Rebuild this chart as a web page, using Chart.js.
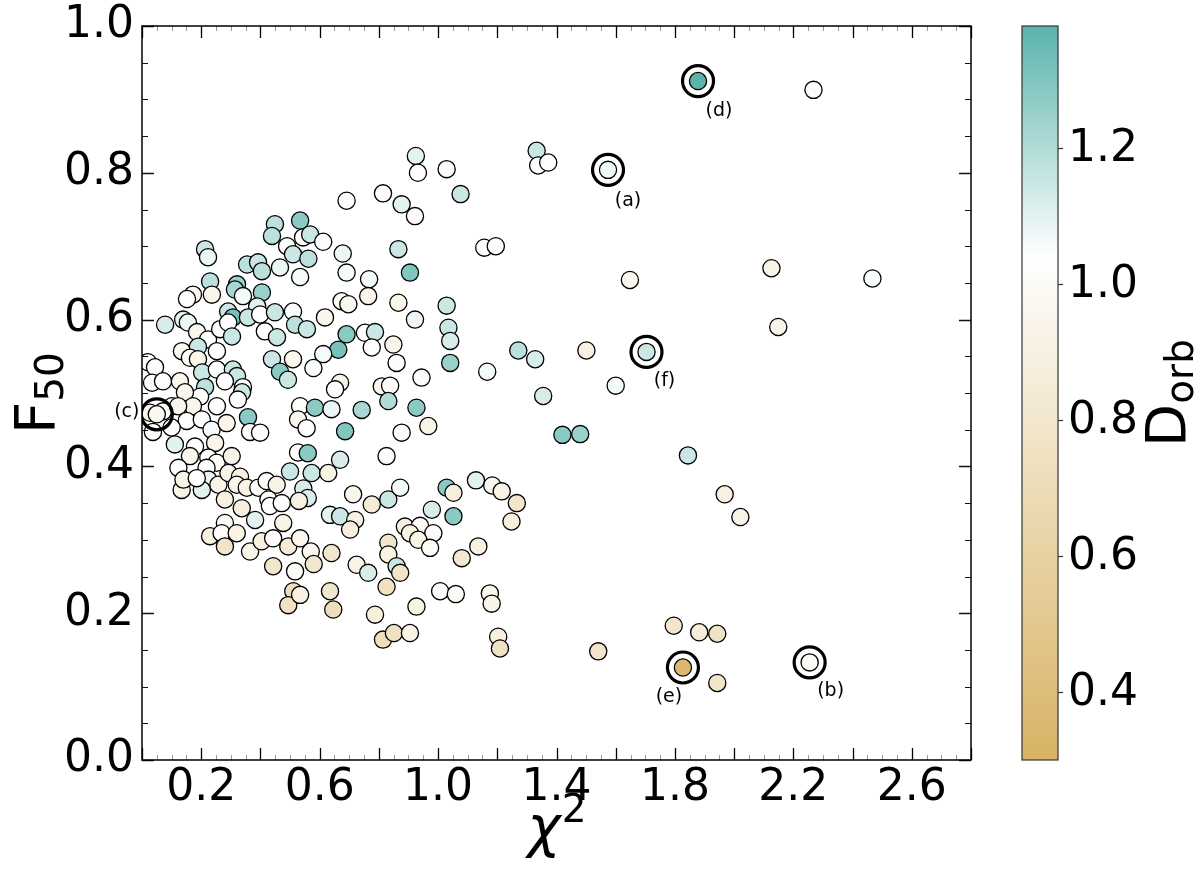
<!DOCTYPE html>
<html>
<head>
<meta charset="utf-8">
<script src="https://cdn.jsdelivr.net/npm/chart.js@4.4.1/dist/chart.umd.min.js"></script>
<style>
  html, body { margin: 0; padding: 0; background: #fff; }
  canvas { display: block; }
</style>
</head>
<body>
<canvas id="chart" width="1200" height="880"></canvas>
<script>
// chi^2 of each source
const chi2 = [
    // dense left group
    0.449,0.534,0.439,0.490,0.544,0.510,0.213,0.223,0.355,0.392,
    0.405,0.466,0.534,0.230,0.321,0.314,0.405,0.341,0.172,0.152,
    0.236,0.389,0.291,0.307,0.358,0.399,0.449,0.510,0.517,0.557,
    0.078,0.139,0.155,0.186,0.223,0.264,0.291,0.304,0.415,0.456,
    0.135,0.189,0.253,0.162,0.189,0.439,0.466,0.493,0.510,0.020,
    0.044,0.034,0.071,0.128,0.203,0.253,0.307,0.321,0.213,0.280,
    0.341,0.338,0.324,0.196,0.145,0.172,0.253,0.534,0.358,0.101,
    // lower left group
    0.027,0.071,0.122,0.365,0.399,0.151,0.100,0.037,0.202,0.235,
    0.286,0.527,0.527,0.560,0.111,0.179,0.247,0.162,0.224,0.252,
    0.303,0.123,0.218,0.224,0.258,0.292,0.331,0.320,0.134,0.202,
    0.140,0.185,0.354,0.393,0.421,0.455,0.500,0.545,0.560,0.530,
    0.280,0.337,0.427,0.432,0.472,0.382,0.280,0.477,0.230,0.269,
    0.320,0.280,0.365,0.404,0.443,0.494,0.534,0.570,0.443,0.517,
    0.511,0.580,0.494,
    // middle upper
    0.691,0.814,0.877,0.922,0.568,0.612,0.562,0.678,0.866,0.691,
    0.905,0.767,0.764,0.674,0.697,0.866,1.029,0.618,0.922,1.035,
    1.041,0.691,0.753,0.787,0.663,0.612,0.776,0.849,0.579,0.860,
    1.041,0.944,0.669,0.652,0.810,0.838,0.832,0.584,0.640,0.742,
    0.927,0.925,0.932,
    // middle lower
    0.556,0.686,0.877,0.967,0.669,0.826,0.573,0.629,0.713,0.776,
    0.832,0.872,1.029,1.052,1.052,0.979,0.635,0.669,0.720,0.703,
    0.888,0.939,0.905,0.984,0.933,0.973,0.640,0.832,0.832,0.725,
    0.764,0.860,0.872,0.826,0.534,0.635,0.646,0.787,0.927,1.007,
    1.060,0.814,0.851,0.905,
    // right side
    1.029,1.333,1.338,1.372,1.076,1.156,1.195,1.166,1.271,1.328,
    1.501,1.355,1.600,1.420,1.480,1.128,1.183,1.215,1.266,1.248,
    1.136,1.080,1.175,1.181,1.203,1.209,1.541,2.268,1.648,2.126,
    2.467,2.149,1.844,1.968,2.021,1.796,1.882,1.943,1.943
];

const f50 = [
    0.730,0.735,0.714,0.700,0.712,0.689,0.696,0.685,0.675,0.678,
    0.666,0.671,0.658,0.652,0.648,0.641,0.637,0.632,0.634,0.628,
    0.634,0.618,0.611,0.603,0.603,0.607,0.610,0.611,0.593,0.587,
    0.593,0.600,0.596,0.583,0.573,0.587,0.596,0.577,0.584,0.576,
    0.557,0.563,0.557,0.548,0.546,0.546,0.529,0.518,0.546,0.542,
    0.535,0.514,0.516,0.516,0.528,0.532,0.532,0.523,0.508,0.516,
    0.508,0.501,0.491,0.495,0.501,0.482,0.482,0.482,0.467,0.482,

    0.473,0.475,0.482,0.447,0.446,0.462,0.453,0.447,0.464,0.450,
    0.459,0.464,0.419,0.418,0.430,0.427,0.432,0.414,0.412,0.405,
    0.414,0.398,0.398,0.382,0.375,0.391,0.386,0.375,0.368,0.368,
    0.382,0.384,0.371,0.371,0.380,0.375,0.393,0.370,0.357,0.353,
    0.355,0.343,0.355,0.346,0.350,0.327,0.323,0.323,0.305,0.309,
    0.309,0.291,0.284,0.298,0.302,0.291,0.302,0.284,0.264,0.257,
    0.230,0.267,0.211,

    0.762,0.772,0.757,0.741,0.716,0.706,0.683,0.690,0.696,0.664,
    0.664,0.655,0.632,0.625,0.621,0.623,0.619,0.603,0.600,0.589,
    0.571,0.580,0.582,0.583,0.559,0.553,0.562,0.566,0.534,0.541,
    0.541,0.521,0.514,0.505,0.509,0.510,0.489,0.480,0.478,0.477,
    0.480,0.823,0.800,

    0.452,0.448,0.446,0.455,0.409,0.414,0.391,0.391,0.362,0.348,
    0.355,0.371,0.371,0.364,0.332,0.341,0.334,0.332,0.327,0.314,
    0.318,0.319,0.309,0.309,0.300,0.289,0.282,0.296,0.280,0.266,
    0.255,0.264,0.255,0.236,0.225,0.230,0.205,0.198,0.209,0.230,
    0.226,0.164,0.173,0.173,

    0.805,0.830,0.810,0.814,0.771,0.698,0.700,0.529,0.558,0.546,
    0.558,0.496,0.510,0.443,0.444,0.381,0.374,0.366,0.350,0.325,
    0.291,0.275,0.227,0.213,0.168,0.152,0.148,0.913,0.654,0.670,
    0.656,0.590,0.415,0.362,0.331,0.183,0.174,0.172,0.105
];

const dorb = [
    1.18,1.28,1.18,1.02,1.02,1.15,1.15,1.08,1.18,1.15,
    1.18,1.08,1.06,1.18,1.25,1.22,1.25,1.06,0.96,1.04,
    0.95,1.10,1.15,1.32,1.15,1.04,1.15,1.05,1.18,1.15,
    1.12,1.10,1.08,0.95,1.04,1.04,1.04,1.15,1.04,1.15,
    0.96,1.15,1.02,1.02,0.95,1.15,1.28,1.15,0.96,1.02,
    1.02,1.02,1.02,0.96,1.15,1.03,1.15,1.15,1.18,1.03,
    1.03,1.15,1.03,1.03,0.95,0.95,1.03,1.03,1.28,1.03,

    0.95,1.03,0.95,1.03,1.02,1.03,1.03,1.03,1.03,1.06,
    0.95,0.95,1.03,1.28,1.10,1.03,0.95,0.95,1.03,1.03,
    0.93,1.03,1.03,1.08,0.93,0.93,0.90,0.93,0.93,1.10,
    0.93,1.03,0.92,1.03,1.03,0.93,1.15,1.12,1.12,0.90,
    0.90,0.88,1.03,1.03,1.03,1.10,1.00,0.93,0.90,1.00,
    0.92,0.78,0.93,0.90,1.02,0.85,0.96,0.97,0.80,1.00,
    0.72,0.80,0.75,

    1.02,1.02,1.10,1.02,1.15,1.05,1.18,1.08,1.15,1.06,
    1.30,1.06,0.95,1.02,0.96,0.94,1.15,0.95,1.08,1.15,
    1.12,1.28,1.02,1.15,1.32,1.06,1.02,0.94,1.05,1.05,
    1.25,1.02,0.93,1.02,0.95,1.02,1.20,1.28,1.08,1.22,
    1.28,1.10,1.02,

    1.02,1.30,1.00,0.93,1.12,1.02,1.15,0.92,0.95,0.85,
    1.15,1.06,1.28,0.88,1.28,1.12,1.10,1.15,0.90,0.88,
    0.90,1.00,0.92,1.00,0.92,1.00,0.80,0.80,0.92,0.92,
    1.12,1.15,0.78,0.75,0.90,0.80,0.72,0.88,0.92,1.00,
    1.00,0.72,0.75,0.92,

    1.02,1.15,1.03,1.02,1.15,1.02,1.02,1.06,1.18,1.12,
    0.90,1.12,1.06,1.28,1.25,1.10,0.97,0.92,0.80,0.88,
    0.90,0.82,0.95,0.93,0.90,0.75,0.78,1.00,0.96,0.93,
    1.05,0.93,1.15,0.90,0.92,0.80,0.86,0.76,0.78
];

// the six marked sources
const markNames = ['(a)', '(b)', '(c)', '(d)', '(e)', '(f)'];
const markChi2 = [1.574, 2.255, 0.050, 1.878, 1.827, 1.704];
const markF50 = [0.804, 0.133, 0.471, 0.925, 0.126, 0.556];
const markDorb = [1.07, 1.00, 0.97, 1.38, 0.35, 1.15];

const xTickLabels = ['0.2', '0.6', '1.0', '1.4', '1.8', '2.2', '2.6'];
const yTickLabels = ['0.0', '0.2', '0.4', '0.6', '0.8', '1.0'];
const cbTickLabels = ['0.4', '0.6', '0.8', '1.0', '1.2'];

// colour map: tan -> white -> teal
const cbMin = 0.30, cbMid = 1.04, cbMax = 1.38;
const cLow = [216, 179, 101], cMid = [255, 255, 255], cHigh = [90, 180, 172];

function dColor(d) {
    let a, b, t;
    if (d <= cbMid) {
        a = cLow; b = cMid; t = (d - cbMin) / (cbMid - cbMin);
    } else {
        a = cMid; b = cHigh; t = (d - cbMid) / (cbMax - cbMid);
    }
    t = Math.max(0, Math.min(1, t));
    const c = a.map((v, i) => Math.round(v + (b[i] - v) * t));
    return `rgb(${c[0]},${c[1]},${c[2]})`;
}

const FONT = "'DejaVu Sans', sans-serif";
const labelOffsets = [[20, 31], [21, 29], [-30, -2], [21, 30], [-14, 30], [18, 29]];

function near(v, step) {
    return Math.abs(v / step - Math.round(v / step)) < 1e-6;
}

// inward ticks on all four sides, plus the frame
const frameTicks = {
    id: 'frameTicks',
    afterDatasetsDraw(chart) {
        const ctx = chart.ctx;
        const a = chart.chartArea;
        const xs = chart.scales.x, ys = chart.scales.y;
        ctx.save();
        ctx.strokeStyle = '#000';
        xs.ticks.forEach(t => {
            const px = Math.round(xs.getPixelForValue(t.value)) + 0.5;
            const major = near(t.value, 0.2);
            const len = major ? 12 : 5;
            ctx.lineWidth = major ? 1.3 : 1;
            ctx.strokeStyle = major ? '#000' : '#999';
            ctx.beginPath();
            ctx.moveTo(px, a.bottom); ctx.lineTo(px, a.bottom - len);
            ctx.moveTo(px, a.top); ctx.lineTo(px, a.top + len);
            ctx.stroke();
        });
        ys.ticks.forEach(t => {
            const py = Math.round(ys.getPixelForValue(t.value)) + 0.5;
            const major = near(t.value, 0.2);
            const len = major ? 12 : 6;
            ctx.lineWidth = major ? 1.3 : 1.1;
            ctx.strokeStyle = '#111';
            ctx.beginPath();
            ctx.moveTo(a.left, py); ctx.lineTo(a.left + len, py);
            ctx.moveTo(a.right, py); ctx.lineTo(a.right - len, py);
            ctx.stroke();
        });
        ctx.lineWidth = 1.5;
        ctx.strokeStyle = '#000';
        ctx.strokeRect(a.left, a.top, a.right - a.left, a.bottom - a.top);
        ctx.restore();
    }
};

// (a)...(f) labels next to the rings
const markLabels = {
    id: 'markLabels',
    afterDatasetsDraw(chart) {
        const ctx = chart.ctx;
        const xs = chart.scales.x, ys = chart.scales.y;
        ctx.save();
        ctx.fillStyle = '#000';
        ctx.font = `19px ${FONT}`;
        ctx.textAlign = 'center';
        ctx.textBaseline = 'middle';
        markNames.forEach((name, i) => {
            const px = xs.getPixelForValue(markChi2[i]) + labelOffsets[i][0];
            const py = ys.getPixelForValue(markF50[i]) + labelOffsets[i][1];
            ctx.fillText(name, px, py);
        });
        ctx.restore();
    }
};

// axis titles with sub/superscripts
const axisTitles = {
    id: 'axisTitles',
    afterDraw(chart) {
        const ctx = chart.ctx;
        const a = chart.chartArea;
        ctx.save();
        ctx.fillStyle = '#000';
        ctx.textBaseline = 'alphabetic';
        ctx.textAlign = 'left';

        // F_50 (rotated)
        const midY = (a.top + a.bottom) / 2;
        ctx.save();
        ctx.translate(54, midY);
        ctx.rotate(-Math.PI / 2);
        ctx.font = `56px ${FONT}`;
        const wF = ctx.measureText('F').width;
        ctx.font = `39px ${FONT}`;
        const w50 = ctx.measureText('50').width;
        let sx = -(wF + w50) / 2;
        ctx.font = `56px ${FONT}`;
        ctx.fillText('F', sx, 0);
        ctx.font = `39px ${FONT}`;
        ctx.fillText('50', sx + wF, 9);
        ctx.restore();

        // chi^2
        const midX = (a.left + a.right) / 2;
        ctx.font = `italic 56px ${FONT}`;
        const wc = ctx.measureText('χ').width;
        ctx.font = `39px ${FONT}`;
        const w2 = ctx.measureText('2').width;
        sx = midX - (wc + w2) / 2;
        ctx.font = `italic 56px ${FONT}`;
        ctx.fillText('χ', sx, 846);
        ctx.font = `39px ${FONT}`;
        ctx.fillText('2', sx + wc + 1, 822);
        ctx.restore();
    }
};

// colour bar on the right, using the hidden cb scale
const colorBar = {
    id: 'colorBar',
    afterDraw(chart) {
        const ctx = chart.ctx;
        const cb = chart.scales.cb;
        const x0 = 1022, x1 = 1058;
        const yTop = cb.getPixelForValue(cbMax), yBot = cb.getPixelForValue(cbMin);
        ctx.save();
        const g = ctx.createLinearGradient(0, yBot, 0, yTop);
        g.addColorStop(0, dColor(cbMin));
        g.addColorStop((cbMid - cbMin) / (cbMax - cbMin), dColor(cbMid));
        g.addColorStop(1, dColor(cbMax));
        ctx.fillStyle = g;
        ctx.fillRect(x0, yTop, x1 - x0, yBot - yTop);
        ctx.strokeStyle = '#333';
        ctx.lineWidth = 1.2;
        ctx.strokeRect(x0, yTop, x1 - x0, yBot - yTop);

        ctx.fillStyle = '#000';
        ctx.font = `44px ${FONT}`;
        ctx.textAlign = 'left';
        ctx.textBaseline = 'middle';
        cbTickLabels.forEach(lbl => {
            const py = Math.round(cb.getPixelForValue(parseFloat(lbl))) + 0.5;
            ctx.beginPath();
            ctx.moveTo(x1, py); ctx.lineTo(x1 + 5, py);
            ctx.stroke();
            ctx.fillText(lbl, x1 + 10, py + 1);
        });

        // D_orb
        const midY = (yTop + yBot) / 2;
        ctx.save();
        ctx.translate(1185, midY);
        ctx.rotate(-Math.PI / 2);
        ctx.textBaseline = 'alphabetic';
        ctx.font = `56px ${FONT}`;
        const wD = ctx.measureText('D').width;
        ctx.font = `39px ${FONT}`;
        const wo = ctx.measureText('orb').width;
        const sx = -(wD + wo) / 2;
        ctx.font = `56px ${FONT}`;
        ctx.fillText('D', sx, 0);
        ctx.font = `39px ${FONT}`;
        ctx.fillText('orb', sx + wD, 8);
        ctx.restore();
        ctx.restore();
    }
};

const points = chi2.map((x, i) => ({x: x, y: f50[i]}));
const marks = markChi2.map((x, i) => ({x: x, y: markF50[i]}));

new Chart(document.getElementById('chart').getContext('2d'), {
    type: 'scatter',
    data: {
        datasets: [
            {
                data: points,
                backgroundColor: dorb.map(dColor),
                borderColor: '#000',
                borderWidth: 1.3,
                pointRadius: 8.6,
                order: 3
            },
            {
                data: marks,
                backgroundColor: markDorb.map(dColor),
                borderColor: '#000',
                borderWidth: 1.3,
                pointRadius: 8.6,
                order: 2
            },
            {
                data: marks,
                backgroundColor: 'rgba(0,0,0,0)',
                borderColor: '#000',
                borderWidth: 3.2,
                pointRadius: 15.5,
                order: 1
            }
        ]
    },
    options: {
        responsive: false,
        animation: false,
        events: [],
        layout: {padding: {left: 0, right: 229, top: 26, bottom: 0}},
        plugins: {legend: {display: false}, tooltip: {enabled: false}},
        scales: {
            x: {
                type: 'linear',
                min: 0, max: 2.8,
                grid: {display: false, drawTicks: false},
                border: {display: false},
                ticks: {
                    stepSize: 0.05,
                    autoSkip: false,
                    maxRotation: 0,
                    padding: 2,
                    color: '#000',
                    font: {family: FONT, size: 44},
                    callback: v => {
                        const s = v.toFixed(1);
                        return near(v, 0.1) && xTickLabels.includes(s) ? s : '';
                    }
                },
                afterFit: s => { s.height = 120; s.paddingLeft = 0; s.paddingRight = 0; }
            },
            y: {
                type: 'linear',
                min: 0, max: 1,
                grid: {display: false, drawTicks: false},
                border: {display: false},
                ticks: {
                    stepSize: 0.05,
                    autoSkip: false,
                    padding: 8,
                    color: '#000',
                    font: {family: FONT, size: 44},
                    callback: v => {
                        const s = v.toFixed(1);
                        return near(v, 0.2) && yTickLabels.includes(s) ? s : '';
                    }
                },
                afterFit: s => { s.width = 142; s.paddingTop = 0; s.paddingBottom = 0; }
            },
            cb: {
                type: 'linear',
                position: 'right',
                display: false,
                min: cbMin, max: cbMax
            }
        }
    },
    plugins: [frameTicks, markLabels, axisTitles, colorBar]
});
</script>
</body>
</html>
